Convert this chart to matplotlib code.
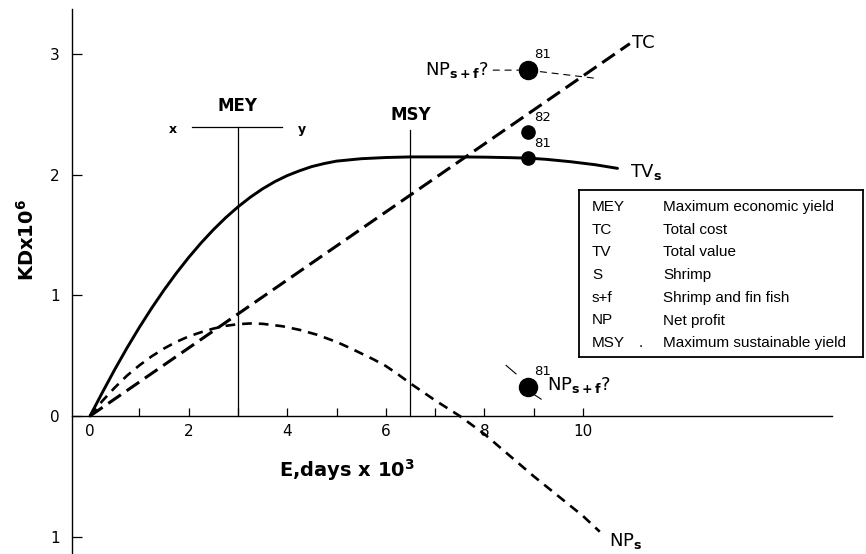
import matplotlib
matplotlib.use("Agg")
import matplotlib.pyplot as plt

plt.rcParams['font.family'] = 'DejaVu Sans'
plt.rcParams['mathtext.fontset'] = 'dejavusans'
plt.rcParams['mathtext.default'] = 'regular'
plt.rcParams['lines.scale_dashes'] = False

# Effort E (days x 10^3) and value (KD x 10^6)
e_tv = [0, 0.25, 0.5, 0.75, 1, 1.25, 1.5, 1.75, 2, 2.25, 2.5, 2.75, 3, 3.25, 3.5, 3.75,
        4, 4.25, 4.5, 4.75, 5, 5.5, 6, 6.5, 7, 7.5, 8, 8.5, 8.88, 9.25, 9.75, 10.25, 10.7]
tv_s = [0, 0.195, 0.385, 0.565, 0.735, 0.895, 1.045, 1.185, 1.315, 1.435, 1.545, 1.645,
        1.735, 1.815, 1.885, 1.945, 1.995, 2.035, 2.07, 2.095, 2.115, 2.135, 2.145, 2.15,
        2.15, 2.15, 2.148, 2.144, 2.14, 2.13, 2.11, 2.085, 2.055]

e_tc = [0, 10.95]
tc = [0, 3.09]

e_np = [0, 0.25, 0.5, 0.75, 1, 1.25, 1.5, 1.75, 2, 2.25, 2.5, 2.75, 3, 3.25, 3.5, 3.9,
        4.25, 4.6, 5, 5.27, 5.75, 6, 6.25, 6.5, 7, 7.5, 8, 9, 10, 10.34]
np_s = [0, 0.125, 0.235, 0.335, 0.42, 0.495, 0.56, 0.615, 0.66, 0.695, 0.725, 0.748, 0.762,
        0.768, 0.765, 0.745, 0.715, 0.675, 0.615, 0.565, 0.47, 0.415, 0.345, 0.27, 0.13,
        0.0, -0.15, -0.5, -0.83, -0.96]

# 1981/82 observations
obs_e = 8.88
np_sf_81_high = 2.87
tv_s_82 = 2.36
tv_s_81 = 2.14
np_sf_81_low = 0.24

mey_e, mey_top = 3.0, 2.40
msy_e, msy_top = 6.5, 2.37

x_ticks = [1, 2, 3, 4, 5, 6, 7, 8, 9, 10]
x_label_ticks = [0, 2, 4, 6, 8, 10]
y_ticks = [-1, 0, 1, 2, 3]
y_tick_labels = ['1', '0', '1', '2', '3']

legend_abbr = ['MEY', 'TC', 'TV', 'S', 's+f', 'NP', 'MSY']
legend_desc = ['Maximum economic yield', 'Total cost', 'Total value', 'Shrimp',
               'Shrimp and fin fish', 'Net profit', 'Maximum sustainable yield']

W, H = 866, 554
fig = plt.figure(figsize=(W / 100, H / 100), dpi=100)
ax = fig.add_axes([0, 0, 1, 1])
ax.set_xlim(-1.826, 15.74)
ax.set_ylim(-1.145, 3.452)

for s in ['top', 'right']:
    ax.spines[s].set_visible(False)
ax.spines['left'].set_position(('data', -0.365))
ax.spines['left'].set_bounds(-1.145, 3.38)
ax.spines['bottom'].set_position(('data', 0))
ax.spines['bottom'].set_bounds(-0.365, 15.05)
for s in ['left', 'bottom']:
    ax.spines[s].set_linewidth(1.0)

ax.set_xticks(x_ticks)
ax.set_xticklabels([])
ax.set_yticks(y_ticks, y_tick_labels)
ax.tick_params(axis='x', direction='in', length=6, width=0.9)
ax.tick_params(axis='y', direction='in', length=7, width=0.9, pad=9, labelsize=11)
for xv in x_label_ticks:
    ax.annotate(str(xv), (xv, 0), xytext=(0, -6), textcoords='offset points',
                ha='center', va='top', fontsize=11)

# curves
ax.plot(e_tv, tv_s, color='black', lw=2.1, solid_capstyle='round', solid_joinstyle='round')
ax.plot(e_tc, tc, color='black', lw=2.2, dashes=(11, 5))
ax.plot(e_np, np_s, color='black', lw=1.9, dashes=(7, 5))

# MEY / MSY markers
ax.plot([mey_e, mey_e], [0, mey_top], color='black', lw=0.9)
ax.plot([2.07, 3.89], [mey_top, mey_top], color='black', lw=0.9)
ax.plot([msy_e, msy_e], [0, msy_top], color='black', lw=0.9)
ax.text(mey_e, mey_top + 0.1, 'MEY', ha='center', va='bottom', fontsize=12, fontweight='bold')
ax.text(msy_e, msy_top + 0.05, 'MSY', ha='center', va='bottom', fontsize=12, fontweight='bold')
ax.text(1.68, mey_top - 0.02, 'x', ha='center', va='center', fontsize=9, fontweight='bold')
ax.text(4.3, mey_top - 0.02, 'y', ha='center', va='center', fontsize=9, fontweight='bold')

# observations
ax.plot([8.17, obs_e, 10.30], [np_sf_81_high, np_sf_81_high, 2.80], color='black',
        lw=0.8, dashes=(5, 3.5))
ax.plot([8.44, 8.64], [0.42, 0.35], color='black', lw=0.8)
ax.plot([9.0, 9.15], [0.18, 0.14], color='black', lw=0.8)
ax.plot([obs_e, obs_e], [np_sf_81_high, np_sf_81_low], 'o', color='black', ms=13, zorder=5)
ax.plot([obs_e, obs_e], [tv_s_82, tv_s_81], 'o', color='black', ms=9.5, zorder=5)
for yv, lab in [(np_sf_81_high + 0.13, '81'), (tv_s_82 + 0.12, '82'),
                (tv_s_81 + 0.12, '81'), (np_sf_81_low + 0.13, '81')]:
    ax.text(obs_e + 0.12, yv, lab, ha='left', va='center', fontsize=9.5)

# curve labels
ax.text(11.0, 3.095, 'TC', ha='left', va='center', fontsize=13)
ax.text(10.95, 1.98, r'TV$_{\mathbf{s}}$', ha='left', va='baseline', fontsize=13)
ax.text(10.53, -1.08, r'NP$_{\mathbf{s}}$', ha='left', va='baseline', fontsize=13)
ax.text(6.8, 2.83, r'NP$_{\mathbf{s+f}}$?', ha='left', va='baseline', fontsize=13)
ax.text(9.27, 0.216, r'NP$_{\mathbf{s+f}}$?', ha='left', va='baseline', fontsize=13)

# axis titles
fig.text(347 / W, 1 - 470 / H, r'E,days x 10$^{\mathbf{3}}$', ha='center', va='center',
         fontsize=14, fontweight='bold')
fig.text(27 / W, 1 - 240 / H, r'KDx10$^{\mathbf{6}}$', ha='center', va='center',
         rotation=90, fontsize=14, fontweight='bold')

# legend box
lx0, ly0, lx1, ly1 = 579, 190, 863, 357
lax = fig.add_axes([lx0 / W, 1 - ly1 / H, (lx1 - lx0) / W, (ly1 - ly0) / H])
lax.set_xticks([])
lax.set_yticks([])
for s in lax.spines.values():
    s.set_linewidth(1.3)
for i, (ab, de) in enumerate(zip(legend_abbr, legend_desc)):
    yrow = 1 - (207 + 22.7 * i - ly0) / (ly1 - ly0)
    lax.text((592 - lx0) / (lx1 - lx0), yrow, ab, va='center', ha='left',
             fontsize=11, family='Liberation Sans')
    lax.text((663 - lx0) / (lx1 - lx0), yrow, de, va='center', ha='left',
             fontsize=11, family='Liberation Sans')
lax.text((639 - lx0) / (lx1 - lx0), 1 - (207 + 22.7 * 6 - ly0) / (ly1 - ly0), '.',
         va='center', ha='left', fontsize=11, family='Liberation Sans')

fig.savefig('out.png', dpi=100)
